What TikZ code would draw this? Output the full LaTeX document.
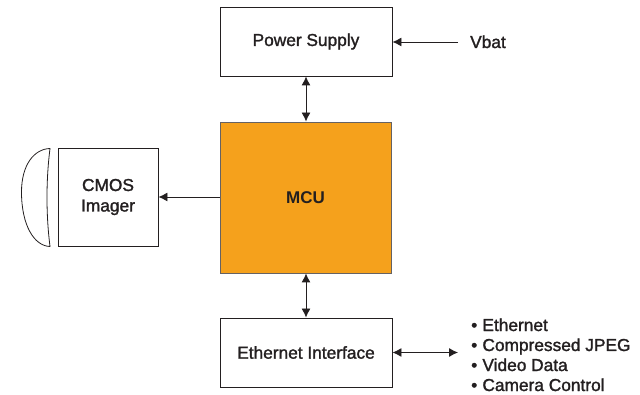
\documentclass[tikz,border=0pt]{standalone}
\usepackage{fontspec}
\setmainfont{Liberation Sans}
\newfontfamily\labelfont[FakeBold=1.5]{Liberation Sans}
\newfontfamily\mcufont[BoldFont={* Bold}]{Liberation Sans}
\usetikzlibrary{arrows.meta}
\definecolor{ink}{HTML}{231F20}
\definecolor{mcu}{HTML}{F5A11C}
\newcommand{\bul}{•\hspace{5.2pt}}
\tikzset{
  blockbox/.style={draw=ink,line width=0.9pt,fill=white,align=center,text=ink,inner sep=0pt,font=\labelfont\fontsize{17.3}{20.5}\selectfont},
  lbl/.style={text=ink,inner sep=0pt,anchor=base west,font=\labelfont\fontsize{17.3}{17}\selectfont},
  conn/.style={draw=ink,line width=0.9pt,-{Latex[length=9pt,width=9pt]}},
  bothconn/.style={draw=ink,line width=0.9pt,{Latex[length=9pt,width=9pt]}-{Latex[length=9pt,width=9pt]}}
}
\begin{document}
\begin{tikzpicture}[x=1pt,y=-1pt]
\useasboundingbox (0,0) rectangle (640,395);
\node[blockbox,minimum width=172pt,minimum height=69pt] (power) at (306,41.5) {Power Supply};
\node[blockbox,fill=mcu,draw=ink!70,minimum width=171pt,minimum height=151pt] (mcu) at (305.5,197.5) {\mcufont\bfseries\fontsize{17}{20}\selectfont MCU};
\node[blockbox,minimum width=100pt,minimum height=98pt] (cmos) at (108,197) {CMOS\\Imager};
\node[blockbox,minimum width=172pt,minimum height=69pt] (eth) at (306,352.5) {Ethernet Interface};
\node[lbl] (vbat) at (470,48) {Vbat};
\coordinate (vbatend) at (458,42);
\coordinate (ethend) at (458,352.5);
\node[lbl] (b1) at (471,331) {\bul Ethernet};
\node[lbl] (b2) at (471,351) {\bul Compressed JPEG};
\node[lbl] (b3) at (471,371) {\bul Video Data};
\node[lbl] (b4) at (471,391) {\bul Camera Control};
\draw[conn] (vbatend) -- (power.east |- vbatend);
\draw[bothconn] (power.south) -- (mcu.north -| power.south);
\draw[bothconn] (mcu.south -| eth.north) -- (eth.north);
\draw[conn] (mcu.west |- cmos.east) -- (cmos.east);
\draw[bothconn] (eth.east |- ethend) -- (ethend);
\draw[draw=ink,line width=0.8pt] (50,148.5)
  .. controls (34,149) and (21.5,165) .. (21.5,192)
  .. controls (21.5,225) and (34,246) .. (50,246.5)
  .. controls (46,215) and (46,180) .. (50,148.5) -- cycle;
\end{tikzpicture}
\end{document}
